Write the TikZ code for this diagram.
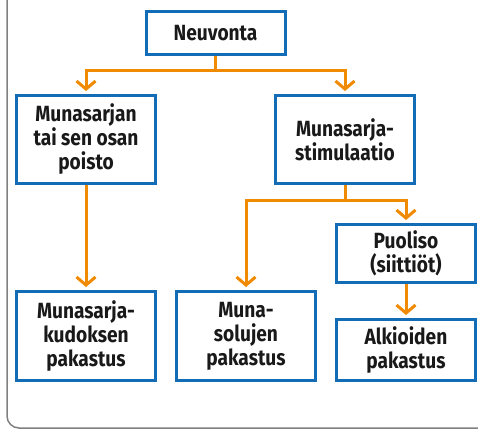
\documentclass[tikz,border=0pt]{standalone}
\usepackage{fontspec}
\setmainfont{Fira Sans}[FakeStretch=0.87]
\usetikzlibrary{arrows.meta}
\definecolor{boxblue}{RGB}{18,108,182}
\definecolor{linkorange}{RGB}{240,138,0}

\begin{document}
\begin{tikzpicture}[x=1pt,y=1pt,>={Straight Barb[length=8pt,width=19pt]},
                    node distance=160pt,line width=3pt]
  \tikzstyle{box}=[draw=boxblue,fill=white,text=black!90,align=center,inner sep=0pt,
                   minimum width=139pt,font=\bfseries\fontsize{22}{24}\selectfont]
  \tikzstyle{link}=[->,draw=linkorange,shorten >=3pt]

  \useasboundingbox (0,0) rectangle (478,429);
  \clip (0,0) rectangle (478,429);
  \draw[gray,line width=1.5pt,rounded corners=12pt] (7,440) -- (7,1) -- (490,1);

  \node[box,minimum height=43pt] (neuv) at (215.5,396) {Neuvonta};
  \node[box,minimum height=88pt] (poisto) at (86,289.5) {Munasarjan\\tai sen osan\\poisto};
  \node[box,minimum height=88pt] (stim) [right of=poisto, node distance=259pt] {Munasarja-\\stimulaatio};
  \node[box,minimum height=89pt] (kudos) [below of=poisto, node distance=196.5pt] {Munasarja-\\kudoksen\\pakastus};
  \node[box,minimum height=89pt] (solu) [right of=kudos] {Muna-\\solujen\\pakastus};
  \node[box,minimum height=58pt] (puoliso) at (406,175.5) {Puoliso\\(siittiöt)};
  \node[box,minimum height=61pt,anchor=south] (alkio) at (kudos.south -| puoliso) {Alkioiden\\pakastus};

  \draw[link] (neuv.south) -- ++(0,-15) -| (poisto);
  \draw[link] (neuv.south) -- ++(0,-15) -| (stim);
  \draw[link] (poisto) -- (kudos);
  \draw[link] (stim.south) -- ++(0,-15) -| (solu);
  \draw[link] (stim.south) -- ++(0,-15) -| (puoliso);
  \draw[link] (puoliso) -- (alkio);
\end{tikzpicture}
\end{document}
